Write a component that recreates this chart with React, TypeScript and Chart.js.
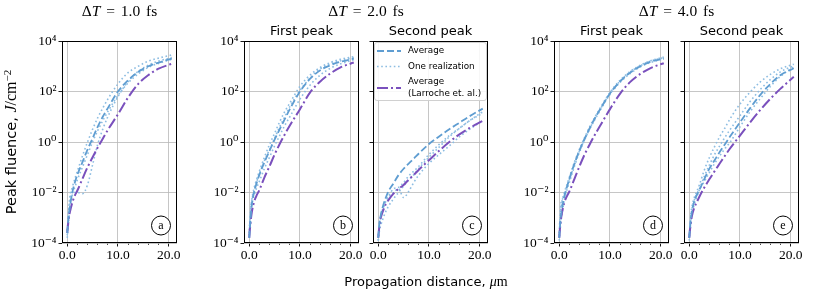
import React, { useEffect, useRef } from "react";
import { Chart, registerables } from "chart.js";

Chart.register(...registerables);

// ---------------- data ----------------
const distance = [0, 0.25, 0.5, 1, 1.5, 2, 3, 4, 5, 6, 7, 8, 10, 12, 14, 16, 18, 20.6];

// ΔT = 1.0 fs
const aAverage = [2.5e-4, 1e-3, 2.5e-3, 1e-2, 2.5e-2, 5e-2, 0.16, 0.5, 1.4, 4, 10, 22, 100, 280, 600, 1000, 1400, 2000];
const aLarroche = [2.5e-4, 8e-4, 1.6e-3, 4e-3, 7.6e-3, 1.2e-2, 3.5e-2, 0.1, 0.25, 0.6, 1.35, 3, 12.6, 58, 200, 450, 800, 1260];
const aReal1 = [2e-4, 1.25e-3, 6.3e-3, 1.6e-2, 3.5e-2, 7e-2, 0.28, 1, 3.2, 9, 22, 50, 200, 560, 1000, 1600, 2100, 2800];
const aReal2 = [1.6e-4, 6.3e-4, 2e-3, 8e-3, 1e-2, 1e-2, 9e-3, 2e-2, 0.126, 0.8, 3.2, 10, 63, 250, 630, 1100, 1600, 2200];
const aReal3 = [3.2e-4, 1.6e-3, 4e-3, 1e-2, 1.6e-2, 3.2e-2, 0.1, 0.32, 1, 2.8, 7, 16, 70, 220, 500, 900, 1300, 1900];

// ΔT = 2.0 fs, first peak
const bAverage = [1.6e-4, 8e-4, 3.2e-3, 1.1e-2, 2.5e-2, 5e-2, 0.16, 0.45, 1.25, 3.2, 8, 20, 100, 320, 700, 1100, 1500, 2000];
const bLarroche = [1.6e-4, 6.3e-4, 1.6e-3, 4.5e-3, 8e-3, 1.25e-2, 4e-2, 0.11, 0.32, 0.83, 2, 4.5, 20, 93, 250, 520, 900, 1400];
const bReal1 = [2.5e-4, 1.6e-3, 5e-3, 1.6e-2, 3.5e-2, 7e-2, 0.25, 0.8, 2.2, 6.3, 16, 35, 160, 450, 900, 1400, 1900, 2400];
const bReal2 = [2e-4, 1.25e-3, 3.2e-3, 8e-3, 1.6e-2, 2.8e-2, 9e-2, 0.25, 0.7, 1.8, 4.5, 10, 50, 180, 450, 830, 1250, 1800];
const bReal3 = [3.2e-4, 2e-3, 5e-3, 1.25e-2, 2.8e-2, 5.6e-2, 0.18, 0.5, 1.4, 4, 10, 25, 110, 350, 800, 1250, 1650, 2200];

// ΔT = 2.0 fs, second peak
const cAverage = [1.6e-4, 6.3e-4, 1.25e-3, 3.2e-3, 6.3e-3, 1.1e-2, 2.3e-2, 4.9e-2, 8.7e-2, 0.14, 0.22, 0.35, 0.83, 1.66, 3.2, 5.8, 10.5, 21];
const cLarroche = [1.6e-4, 5e-4, 1e-3, 2e-3, 3.5e-3, 5e-3, 9e-3, 1.4e-2, 2e-2, 3.2e-2, 5e-2, 8e-2, 0.19, 0.45, 1.0, 2.0, 3.6, 6.9];
const cReal1 = [1.25e-4, 5e-4, 1e-3, 2.5e-3, 4.5e-3, 6.3e-3, 1e-2, 1.4e-2, 6.3e-3, 1.1e-2, 2.5e-2, 5e-2, 0.14, 0.32, 0.7, 1.6, 3.2, 7];
const cReal2 = [1.25e-4, 3.2e-4, 5e-4, 1e-3, 1.8e-3, 2.8e-3, 5.6e-3, 1e-2, 1.8e-2, 3.2e-2, 5e-2, 9e-2, 0.25, 0.63, 1.6, 3.5, 7, 16];
const cReal3 = [2e-4, 6.3e-4, 1.25e-3, 2.5e-3, 4.5e-3, 7e-3, 1.4e-2, 1.6e-2, 2.5e-2, 4.5e-2, 7e-2, 0.11, 0.32, 0.8, 1.8, 3.5, 7, 14];

// ΔT = 4.0 fs, first peak
const dAverage = [1.6e-4, 8e-4, 2e-3, 7e-3, 1.6e-2, 3.5e-2, 0.14, 0.47, 1.35, 3.5, 8.5, 19, 83, 250, 560, 1000, 1500, 2000];
const dLarroche = [1.6e-4, 6.3e-4, 1.4e-3, 4e-3, 7e-3, 1.1e-2, 3.5e-2, 0.11, 0.32, 0.8, 1.9, 4.2, 20, 83, 240, 500, 850, 1320];
const dReal1 = [2e-4, 1.6e-3, 4e-3, 1e-2, 2e-2, 4e-2, 0.16, 0.52, 1.5, 4, 9.5, 21, 93, 280, 630, 1100, 1650, 2300];
const dReal2 = [1.25e-4, 5e-4, 1.25e-3, 5e-3, 1.25e-2, 2.5e-2, 0.11, 0.4, 1.2, 3.2, 7.6, 17, 76, 230, 520, 950, 1400, 2000];
const dReal3 = [2.5e-4, 2.5e-3, 5e-3, 6.3e-3, 1.8e-2, 3.2e-2, 0.13, 0.45, 1.25, 3.4, 8.3, 18.6, 85, 260, 600, 1050, 1600, 2200];

// ΔT = 4.0 fs, second peak
const eAverage = [1.6e-4, 6.3e-4, 1.6e-3, 4.5e-3, 8e-3, 1.25e-2, 3.5e-2, 9e-2, 0.19, 0.4, 0.8, 1.6, 6, 22, 74, 200, 450, 830];
const eLarroche = [1.6e-4, 5e-4, 1.1e-3, 2.5e-3, 4.2e-3, 6.8e-3, 1.6e-2, 3.4e-2, 7e-2, 0.14, 0.28, 0.54, 1.8, 6, 18.6, 52, 130, 380];
const eReal1 = [2e-4, 1e-3, 2.5e-3, 6.3e-3, 1.1e-2, 2e-2, 8e-2, 0.25, 0.66, 1.6, 3.5, 8, 32, 95, 240, 480, 800, 1200];
const eReal2 = [1.6e-4, 8e-4, 2e-3, 5e-3, 9e-3, 1.4e-2, 4.5e-2, 0.125, 0.32, 0.7, 1.5, 3, 11, 40, 120, 300, 600, 1050];
const eReal3 = [1.25e-4, 5e-4, 1.25e-3, 3.5e-3, 7e-3, 1.25e-2, 2.8e-2, 6.3e-2, 0.14, 0.28, 0.54, 0.95, 4, 16, 52, 160, 400, 950];

// ticks and labels
const xTickValues = [0, 10, 20];
const xTickLabels = ["0.0", "10.0", "20.0"];
const xMinorTickValues = [2, 4, 6, 8, 12, 14, 16, 18];
const yTickValues = [1e-4, 1e-2, 1, 1e2, 1e4];
const yTickLabels = ["10⁻⁴", "10⁻²", "10⁰", "10²", "10⁴"];
const seriesLabels = ["Average", "Average\n(Larroche et. al.)", "One realization"];
const groupTitles = ["1.0", "2.0", "4.0"];
const peakTitles = ["First peak", "Second peak"];

// ---------------- styling ----------------
const AVG_COLOR = "#5f9dd1";
const REAL_COLOR = "#8dbde2";
const LAR_COLOR = "#7a50bd";
const GRID_COLOR = "#b8b8b8";
const SERIF = '"Liberation Serif", "DejaVu Serif", serif';
const SANS = '"DejaVu Sans", sans-serif';

const PLOT_W = 115;
const PLOT_TOP = 41;
const PLOT_BOTTOM = 243;
const CANVAS_H = 292;
const RIGHT_PAD = 10;
const X_MIN = -1.03;
const X_MAX = 21.63;

type PanelSpec = {
  letter: string;
  left: number;
  yLabels: boolean;
  legend: boolean;
  average: number[];
  larroche: number[];
  realizations: number[][];
};

const panels: PanelSpec[] = [
  { letter: "a", left: 62, yLabels: true, legend: false, average: aAverage, larroche: aLarroche, realizations: [aReal1, aReal2, aReal3] },
  { letter: "b", left: 244, yLabels: true, legend: false, average: bAverage, larroche: bLarroche, realizations: [bReal1, bReal2, bReal3] },
  { letter: "c", left: 373, yLabels: false, legend: true, average: cAverage, larroche: cLarroche, realizations: [cReal1, cReal2, cReal3] },
  { letter: "d", left: 554, yLabels: true, legend: false, average: dAverage, larroche: dLarroche, realizations: [dReal1, dReal2, dReal3] },
  { letter: "e", left: 684, yLabels: false, legend: false, average: eAverage, larroche: eLarroche, realizations: [eReal1, eReal2, eReal3] },
];

const toPoints = (ys: number[]) => ys.map((y, i) => ({ x: distance[i], y }));

function Panel({ spec }: { spec: PanelSpec }) {
  const ref = useRef<HTMLCanvasElement>(null);
  const axisW = spec.yLabels ? 62 : 10;
  const width = axisW + PLOT_W + RIGHT_PAD;

  useEffect(() => {
    const canvas = ref.current;
    if (!canvas) return;

    const framePlugin = {
      id: "frame",
      afterDatasetsDraw(chart: any) {
        const { ctx, chartArea: a } = chart;
        ctx.save();
        ctx.strokeStyle = "#000";
        ctx.lineWidth = 1;
        ctx.setLineDash([]);
        ctx.strokeRect(a.left + 0.5, a.top + 0.5, a.right - a.left - 1, a.bottom - a.top - 1);
        ctx.restore();
      },
    };

    const badgePlugin = {
      id: "badge",
      afterDraw(chart: any) {
        const { ctx, chartArea: a } = chart;
        const cx = a.right - 16;
        const cy = a.bottom - 17.5;
        ctx.save();
        ctx.beginPath();
        ctx.arc(cx, cy, 9.5, 0, Math.PI * 2);
        ctx.fillStyle = "#fff";
        ctx.fill();
        ctx.lineWidth = 1;
        ctx.strokeStyle = "#000";
        ctx.setLineDash([]);
        ctx.stroke();
        ctx.fillStyle = "#000";
        ctx.font = `12px ${SERIF}`;
        ctx.textAlign = "center";
        ctx.textBaseline = "middle";
        ctx.fillText(spec.letter, cx, cy);
        ctx.restore();
      },
    };

    const legendPlugin = {
      id: "insideLegend",
      afterDraw(chart: any) {
        if (!spec.legend) return;
        const { ctx, chartArea: a } = chart;
        const ds = chart.data.datasets;
        const x0 = a.left + 1.5;
        const y0 = a.top + 1.5;
        const w = a.right - a.left - 3;
        const h = 58;
        const r = 2.5;
        ctx.save();
        ctx.beginPath();
        ctx.moveTo(x0 + r, y0);
        ctx.lineTo(x0 + w - r, y0);
        ctx.quadraticCurveTo(x0 + w, y0, x0 + w, y0 + r);
        ctx.lineTo(x0 + w, y0 + h - r);
        ctx.quadraticCurveTo(x0 + w, y0 + h, x0 + w - r, y0 + h);
        ctx.lineTo(x0 + r, y0 + h);
        ctx.quadraticCurveTo(x0, y0 + h, x0, y0 + h - r);
        ctx.lineTo(x0, y0 + r);
        ctx.quadraticCurveTo(x0, y0, x0 + r, y0);
        ctx.closePath();
        ctx.fillStyle = "rgba(255,255,255,0.85)";
        ctx.fill();
        ctx.strokeStyle = "#d0d0d0";
        ctx.lineWidth = 1;
        ctx.setLineDash([]);
        ctx.stroke();

        const entries = [
          { d: ds[0], lineY: 10, textY: [10] },
          { d: ds[2], lineY: 25.5, textY: [25.5] },
          { d: ds[1], lineY: 47, textY: [40.5, 53] },
        ];
        const lx0 = a.left + 4;
        const lx1 = a.left + 28;
        const tx = a.left + 35;
        ctx.font = `8.8px ${SANS}`;
        ctx.textAlign = "left";
        ctx.textBaseline = "middle";
        for (const e of entries) {
          ctx.beginPath();
          ctx.setLineDash(e.d.borderDash || []);
          ctx.strokeStyle = e.d.borderColor;
          ctx.lineWidth = e.d.borderWidth;
          ctx.moveTo(lx0, a.top + e.lineY);
          ctx.lineTo(lx1, a.top + e.lineY);
          ctx.stroke();
          ctx.setLineDash([]);
          ctx.fillStyle = "#000";
          const lines = String(e.d.label).split("\n");
          lines.forEach((t, k) => ctx.fillText(t, tx, a.top + e.textY[k]));
        }
        ctx.restore();
      },
    };

    const tickFont = { family: SERIF, size: 13.5 };

    const chart = new Chart(canvas, {
      type: "line",
      data: {
        datasets: [
          {
            label: seriesLabels[0],
            data: toPoints(spec.average),
            borderColor: AVG_COLOR,
            borderWidth: 1.8,
            borderDash: [7, 3],
            pointRadius: 0,
            cubicInterpolationMode: "monotone",
            fill: false,
          },
          {
            label: seriesLabels[1],
            data: toPoints(spec.larroche),
            borderColor: LAR_COLOR,
            borderWidth: 2,
            borderDash: [11, 3, 2, 3],
            pointRadius: 0,
            cubicInterpolationMode: "monotone",
            fill: false,
          },
          ...spec.realizations.map((r) => ({
            label: seriesLabels[2],
            data: toPoints(r),
            borderColor: REAL_COLOR,
            borderWidth: 1.6,
            borderDash: [1.6, 2.6],
            pointRadius: 0,
            cubicInterpolationMode: "monotone" as const,
            fill: false,
          })),
        ],
      },
      options: {
        animation: false,
        responsive: false,
        maintainAspectRatio: false,
        layout: { padding: { left: 0, right: RIGHT_PAD, top: PLOT_TOP, bottom: 0 } },
        plugins: { legend: { display: false }, tooltip: { enabled: false } },
        scales: {
          x: {
            type: "linear",
            position: "bottom",
            min: X_MIN,
            max: X_MAX,
            afterBuildTicks: (s: any) => {
              s.ticks = xTickValues.map((v) => ({ value: v }));
            },
            afterFit: (s: any) => {
              s.height = CANVAS_H - PLOT_BOTTOM;
            },
            ticks: {
              callback: (_v: any, i: number) => xTickLabels[i],
              font: tickFont,
              color: "#000",
              padding: 1,
              maxRotation: 0,
              autoSkip: false,
            },
            grid: { color: GRID_COLOR, lineWidth: 0.8, tickColor: "#000", tickLength: 3.5, tickWidth: 0.9 },
            border: { display: false },
          },
          xMinor: {
            type: "linear",
            position: { y: 1e-4 },
            min: X_MIN,
            max: X_MAX,
            afterBuildTicks: (s: any) => {
              s.ticks = xMinorTickValues.map((v) => ({ value: v }));
            },
            afterFit: (s: any) => {
              s.height = 0;
            },
            ticks: { display: false },
            grid: { drawOnChartArea: false, tickColor: "#000", tickLength: 2, tickWidth: 0.7 },
            border: { display: false },
          },
          y: {
            type: "logarithmic",
            min: 1e-4,
            max: 1e4,
            afterBuildTicks: (s: any) => {
              s.ticks = yTickValues.map((v) => ({ value: v }));
            },
            afterFit: (s: any) => {
              s.width = axisW;
            },
            ticks: {
              display: spec.yLabels,
              callback: (_v: any, i: number) => yTickLabels[i],
              font: tickFont,
              color: "#000",
              padding: 2,
              autoSkip: false,
            },
            grid: { color: GRID_COLOR, lineWidth: 0.8, tickColor: "#000", tickLength: 3.5, tickWidth: 0.9 },
            border: { display: false },
          },
        },
      } as any,
      plugins: [framePlugin, badgePlugin, legendPlugin],
    });
    return () => chart.destroy();
  }, [spec, axisW]);

  return (
    <canvas
      ref={ref}
      width={width}
      height={CANVAS_H}
      style={{ position: "absolute", left: spec.left - axisW, top: 0, width, height: CANVAS_H }}
    />
  );
}

const groupSpans = [
  { left: 62, right: 177 },
  { left: 244, right: 488 },
  { left: 554, right: 799 },
];

export default function App() {
  return (
    <div style={{ position: "absolute", left: 0, top: 0, width: 830, height: 292, background: "#fff", overflow: "hidden" }}>
      {panels.map((p) => (
        <Panel key={p.letter} spec={p} />
      ))}
      {groupSpans.map((g, i) => (
        <div
          key={"g" + i}
          style={{
            position: "absolute",
            left: g.left,
            width: g.right - g.left,
            top: 2,
            lineHeight: "18px",
            textAlign: "center",
            fontFamily: SERIF,
            fontSize: 15.5,
            wordSpacing: 2,
            color: "#000",
            whiteSpace: "nowrap",
          }}
        >
          Δ<i>T</i> = {groupTitles[i]} fs
        </div>
      ))}
      {panels.slice(1).map((p, i) => (
        <div
          key={"s" + i}
          style={{
            position: "absolute",
            left: p.left,
            width: PLOT_W,
            top: 22.5,
            lineHeight: "16px",
            textAlign: "center",
            fontFamily: SANS,
            fontSize: 13,
            color: "#000",
            whiteSpace: "nowrap",
          }}
        >
          {peakTitles[i % 2]}
        </div>
      ))}
      <div
        style={{
          position: "absolute",
          left: 226,
          width: 400,
          top: 273.5,
          lineHeight: "16px",
          textAlign: "center",
          fontFamily: SANS,
          fontSize: 13,
          color: "#000",
          whiteSpace: "nowrap",
        }}
      >
        Propagation distance, <span style={{ fontFamily: SERIF, fontSize: 14 }}><i>μ</i>m</span>
      </div>
      <div
        style={{
          position: "absolute",
          left: 11 - 125,
          width: 250,
          top: 142 - 8,
          height: 16,
          lineHeight: "16px",
          textAlign: "center",
          fontFamily: SANS,
          fontSize: 14.5,
          color: "#000",
          whiteSpace: "nowrap",
          transform: "rotate(-90deg)",
          transformOrigin: "50% 50%",
        }}
      >
        Peak fluence,{" "}
        <span style={{ fontFamily: SERIF, fontSize: 16 }}>
          <i>J</i>/cm<sup style={{ fontSize: 11, verticalAlign: "0.45em", lineHeight: 0 }}>−2</sup>
        </span>
      </div>
    </div>
  );
}
